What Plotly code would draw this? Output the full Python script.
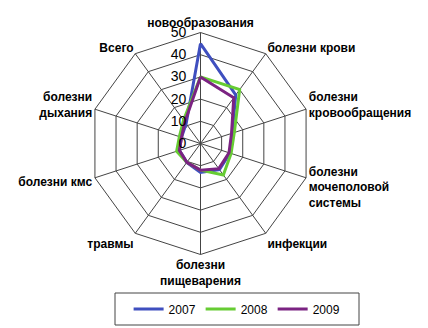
import plotly.graph_objects as go

categories = ["новообразования", "болезни крови", "болезни<br>кровообращения",
              "болезни<br>мочеполовой<br>системы", "инфекции", "болезни<br>пищеварения",
              "травмы", "болезни кмс", "болезни<br>дыхания", "Всего"]
v2007 = [45, 27, 15, 14, 14.5, 13, 10.5, 10, 9, 11]
v2008 = [30, 30, 16, 14.5, 17.5, 12, 10.5, 11.3, 10, 13]
v2009 = [30, 25.5, 14.7, 13.5, 14, 12, 10.5, 10, 9, 12]
years = ["2007", "2008", "2009"]
colors = ["#3F4FBF", "#66CC33", "#7B2382"]

fig = go.Figure()
for name, vals, c in zip(years, [v2007, v2008, v2009], colors):
    fig.add_trace(go.Scatterpolar(
        r=vals + [vals[0]], theta=categories + [categories[0]],
        mode="lines", name=name, line=dict(color=c, width=3)))

fig.update_layout(
    width=428, height=328, margin=dict(l=0, r=0, t=0, b=0),
    paper_bgcolor="white", plot_bgcolor="white",
    font=dict(family="Liberation Sans, Arial", color="black", size=12),
    polar=dict(
        domain=dict(x=[89.5/428, 311.5/428], y=[1-254.5/328, 1-32.5/328]),
        bgcolor="white",
        gridshape="linear",
        radialaxis=dict(range=[0, 50], dtick=10, angle=90, side="counterclockwise",
                        showline=False, gridcolor="#444", gridwidth=1,
                        ticks="", tickfont=dict(size=14, color="black"), tickangle=90,
                        ticksuffix="\u00a0\u00a0\u00a0"),
        angularaxis=dict(direction="clockwise", rotation=90, gridcolor="#444",
                         linecolor="#444", linewidth=1, ticks="",
                         tickfont=dict(size=12, color="black", weight="bold",
                                       family="Liberation Sans, Arial")),
    ),
    legend=dict(orientation="h", x=0.554, xanchor="center", y=1-309/328, yanchor="middle",
                borderwidth=0, font=dict(size=12), bgcolor="rgba(0,0,0,0)",
                itemwidth=30),
    shapes=[dict(type="rect", xref="paper", yref="paper",
                 x0=115/428, x1=359/428, y0=1-325/328, y1=1-293/328,
                 line=dict(color="#444", width=1), layer="above")],
)
fig.write_html("out.html")
